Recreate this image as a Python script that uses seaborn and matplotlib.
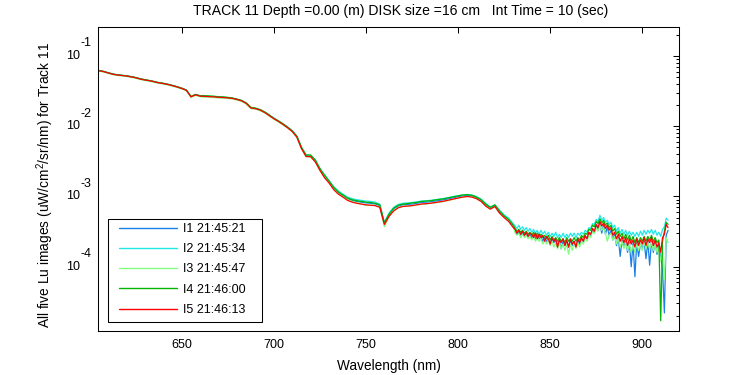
import numpy as np
import pandas as pd
import matplotlib
matplotlib.use("Agg")
import matplotlib.pyplot as plt
from matplotlib.patches import Rectangle
import seaborn as sns
from matplotlib.ticker import LogLocator, NullFormatter, NullLocator, FixedLocator

# ---------------- data (Lu values in units of 1e-4 uW/cm^2/sr/nm) ----------------
UNIT = 1e-4
wl_smooth = np.arange(605.0, 830.01, 2.5)   # 91 samples
wl_tail = np.arange(831.0, 914.01, 1.0)     # 84 samples

image_labels = ["I1 21:45:21", "I2 21:45:34", "I3 21:45:47", "I4 21:46:00", "I5 21:46:13"]
image_colors = ["#1a80e8", "#20e8e8", "#80ff80", "#00b400", "#ff0000"]

i1_smooth = [619, 601, 576, 551, 538, 528, 520, 506, 491, 471,
             456, 446, 431, 416, 406, 394, 379, 363, 346, 326,
             263, 281, 269, 267, 265, 263, 259, 257, 254, 250,
             241, 231, 211, 183, 179, 171, 158, 143, 129, 118,
             107, 96, 85, 71, 49, 38, 37.5, 32.5, 24.5, 20,
             16.2, 13.2, 11.4, 10.3, 9.3, 8.8, 8.5, 8.3, 8.1, 8.0,
             7.8, 7.4, 4.1, 5.4, 6.6, 7.3, 7.6, 7.7, 7.8, 8.0,
             8.2, 8.3, 8.4, 8.6, 8.8, 9.0, 9.3, 9.6, 9.9, 10.2,
             10.4, 10.2, 9.7, 8.9, 7.6, 6.9, 7.4, 6.0, 5.2, 4.6,
             3.8]
i2_smooth = [617, 602, 576, 552, 538, 529, 520, 507, 491, 472,
             457, 446, 432, 416, 406, 394, 380, 364, 346, 327,
             264, 282, 270, 268, 266, 264, 260, 258, 255, 251,
             242, 232, 213, 184, 180, 172, 159, 144, 130, 119,
             108, 97, 86, 72, 50, 39, 38, 33, 25, 20.5,
             16.8, 13.8, 12.0, 10.8, 9.8, 9.3, 9.0, 8.8, 8.6, 8.5,
             8.3, 7.8, 4.3, 5.8, 7.0, 7.7, 8.0, 8.1, 8.2, 8.4,
             8.6, 8.7, 8.8, 9.0, 9.2, 9.4, 9.7, 10.0, 10.3, 10.5,
             10.7, 10.5, 10.0, 9.2, 8.0, 7.1, 7.6, 6.4, 5.5, 4.9,
             4.1]
i3_smooth = [610, 592, 568, 543, 530, 519, 512, 498, 483, 463,
             448, 438, 424, 409, 399, 387, 372, 356, 340, 320,
             258, 275, 262, 260, 258, 256, 253, 251, 248, 245,
             236, 226, 206, 178, 175, 167, 155, 140, 126, 115,
             104, 94, 83, 69, 48, 37, 36, 31.5, 24, 19,
             15.8, 12.9, 11.0, 10.0, 9.0, 8.5, 8.1, 7.8, 7.5, 7.5,
             7.5, 7.1, 3.7, 5.2, 6.4, 7.0, 7.3, 7.3, 7.4, 7.6,
             7.7, 7.8, 8.0, 8.1, 8.3, 8.5, 8.8, 9.1, 9.5, 9.8,
             10.0, 9.9, 9.4, 8.6, 7.4, 6.7, 7.2, 5.9, 5.1, 4.5,
             3.7]
i4_smooth = [622, 606, 578, 556, 540, 532, 522, 510, 494, 474,
             460, 448, 434, 418, 409, 396, 381, 366, 348, 328,
             266, 284, 272, 272, 270, 268, 262, 262, 258, 252,
             243, 233, 215, 186, 181, 173, 160, 145, 130, 119,
             108, 97, 86, 72, 50, 39, 39, 33, 25, 20,
             16.5, 13.5, 11.6, 10.5, 9.5, 9.0, 8.7, 8.5, 8.3, 8.2,
             8.0, 7.6, 4.2, 5.6, 6.8, 7.5, 7.8, 7.9, 8.1, 8.2,
             8.5, 8.6, 8.7, 8.9, 9.1, 9.3, 9.6, 9.9, 10.2, 10.5,
             10.6, 10.4, 9.8, 9.0, 7.8, 7.0, 7.6, 6.2, 5.3, 4.7,
             3.9]
i5_smooth = [618, 600, 575, 550, 537, 527, 519, 505, 490, 470,
             455, 445, 430, 415, 405, 393, 378, 362, 345, 325,
             262, 280, 268, 266, 264, 262, 258, 256, 253, 249,
             240, 230, 212, 182, 178, 170, 157, 142, 128, 117,
             106, 95, 84, 70, 48, 37, 37, 31, 23.5, 18.5,
             15.5, 12.5, 10.8, 9.8, 8.8, 8.3, 8.0, 7.8, 7.6, 7.5,
             7.4, 7.0, 4.0, 5.2, 6.2, 6.9, 7.2, 7.3, 7.4, 7.6,
             7.8, 7.9, 8.0, 8.2, 8.4, 8.6, 8.9, 9.2, 9.5, 9.8,
             10.0, 9.8, 9.3, 8.5, 7.3, 6.6, 7.2, 5.8, 5.0, 4.4,
             3.6]

i1_tail = [3.2, 2.9, 3.2, 2.8, 3.1, 2.7, 3.0, 2.7, 2.9, 2.6,
           2.9, 2.5, 2.8, 2.5, 2.7, 2.3, 2.6, 2.3, 2.5, 2.1,
           2.5, 2.2, 2.4, 2.0, 2.4, 1.8, 2.3, 2.0, 2.3, 1.9,
           2.4, 2.0, 2.3, 1.9, 2.4, 2.1, 2.5, 2.3, 2.7, 2.5,
           3.0, 2.8, 3.3, 3.0, 3.8, 3.4, 4.2, 3.0, 4.0, 2.9,
           3.7, 2.8, 3.3, 2.4, 2.9, 2.0, 2.6, 1.4, 2.4, 1.9,
           2.3, 1.6, 2.2, 1.0, 2.2, 0.72, 2.2, 1.4, 2.1, 1.8,
           2.3, 1.3, 2.3, 1.05, 2.3, 1.6, 2.2, 1.5, 2.0, 1.4,
           0.9, 0.22, 2.8, 3.3]
i2_tail = [3.8, 3.5, 3.9, 3.4, 3.7, 3.3, 3.6, 3.2, 3.5, 3.1,
           3.4, 3.0, 3.3, 2.9, 3.3, 2.9, 3.2, 2.8, 3.1, 2.7,
           3.0, 2.7, 3.1, 2.6, 2.9, 2.6, 3.0, 2.6, 2.9, 2.6,
           3.0, 2.7, 3.0, 2.6, 3.0, 2.8, 3.1, 2.9, 3.3, 3.1,
           3.6, 3.5, 4.1, 4.0, 4.7, 4.4, 5.4, 4.6, 5.0, 4.3,
           4.6, 4.0, 4.3, 3.6, 3.9, 3.2, 3.6, 3.0, 3.4, 2.9,
           3.3, 2.8, 3.2, 2.8, 3.1, 2.7, 3.1, 2.7, 3.2, 2.8,
           3.3, 2.9, 3.3, 3.0, 3.4, 2.9, 3.3, 2.8, 3.1, 2.7,
           3.4, 3.7, 4.9, 4.6]
i3_tail = [3.0, 2.8, 3.0, 2.6, 2.9, 2.6, 2.8, 2.5, 2.7, 2.4,
           2.7, 2.3, 2.6, 2.3, 2.5, 2.1, 2.4, 2.1, 2.4, 2.0,
           2.3, 1.9, 2.2, 1.8, 2.2, 1.8, 2.1, 1.7, 2.1, 1.5,
           2.1, 1.7, 2.2, 1.8, 2.2, 1.9, 2.3, 2.1, 2.5, 2.3,
           2.8, 2.6, 3.2, 3.0, 3.6, 3.2, 3.9, 3.3, 3.6, 3.0,
           2.3, 2.8, 3.0, 2.4, 2.7, 2.1, 2.5, 1.9, 2.3, 1.8,
           2.2, 1.7, 2.1, 1.6, 2.0, 1.6, 2.1, 1.7, 2.1, 1.7,
           2.2, 1.8, 2.2, 1.8, 2.2, 1.7, 2.1, 1.6, 1.9, 1.2,
           1.6, 0.65, 2.6, 2.2]
i4_tail = [3.5, 3.2, 3.4, 3.1, 3.3, 3.0, 3.2, 2.9, 3.1, 2.8,
           3.1, 2.7, 3.0, 2.7, 2.9, 2.6, 2.8, 2.5, 2.8, 2.4,
           2.7, 2.4, 2.6, 2.3, 2.6, 2.3, 2.5, 2.2, 2.6, 2.3,
           2.5, 2.3, 2.6, 2.3, 2.6, 2.4, 2.8, 2.6, 3.0, 2.9,
           3.4, 3.3, 3.9, 3.7, 4.4, 4.1, 4.8, 4.2, 4.6, 3.9,
           4.2, 3.6, 3.9, 3.2, 3.5, 2.9, 3.2, 2.7, 3.0, 2.5,
           2.9, 2.4, 2.8, 2.3, 2.7, 2.2, 2.6, 2.2, 2.6, 2.3,
           2.7, 2.3, 2.7, 2.4, 2.8, 2.3, 2.6, 2.2, 2.4, 0.17,
           2.3, 3.2, 4.3, 4.0]
i5_tail = [3.4, 3.0, 3.3, 2.9, 3.2, 2.8, 3.1, 2.7, 3.0, 2.9,
           2.6, 3.0, 2.5, 2.9, 2.6, 2.8, 2.3, 2.7, 2.5, 2.1,
           2.6, 2.3, 2.5, 1.9, 2.4, 2.2, 2.5, 2.0, 2.4, 1.9,
           2.5, 2.1, 2.3, 1.9, 2.5, 2.2, 2.6, 2.3, 2.8, 2.5,
           3.1, 2.9, 3.5, 3.2, 4.0, 3.6, 4.4, 3.8, 4.2, 3.5,
           3.9, 3.3, 3.6, 2.8, 3.1, 2.5, 2.9, 2.3, 2.7, 2.2,
           2.6, 2.0, 2.5, 2.1, 2.4, 1.9, 2.5, 2.0, 2.4, 2.1,
           2.6, 2.0, 2.5, 2.2, 2.6, 2.0, 2.4, 1.9, 2.2, 1.6,
           2.6, 2.9, 4.0, 3.6]

xtick_values = [650, 700, 750, 800, 850, 900]
ytick_exponents = [-1, -2, -3, -4]

title_text = "TRACK 11 Depth =0.00 (m) DISK size =16 cm   Int Time = 10 (sec)"
xlabel_text = "Wavelength (nm)"
ylabel_text = "All five Lu images (uW/cm$^2$/sr/nm) for Track 11"

# ---------------- build table ----------------
wavelength = np.concatenate([wl_smooth, wl_tail])
all_series = [i1_smooth + i1_tail, i2_smooth + i2_tail, i3_smooth + i3_tail,
              i4_smooth + i4_tail, i5_smooth + i5_tail]
frames = []
for lab, vals in zip(image_labels, all_series):
    frames.append(pd.DataFrame({"Wavelength": wavelength,
                                "Lu": np.asarray(vals, dtype=float) * UNIT,
                                "Image": lab}))
df = pd.concat(frames, ignore_index=True)

# ---------------- style ----------------
sns.set_theme(style="white")
plt.rcParams.update({
    "font.family": ["Liberation Sans", "DejaVu Sans"],
    "mathtext.fontset": "custom",
    "mathtext.rm": "Liberation Sans",
    "mathtext.it": "Liberation Sans:italic",
    "mathtext.bf": "Liberation Sans:bold",
    "axes.edgecolor": "black",
    "axes.linewidth": 0.75,
    "text.color": "black",
    "xtick.color": "black",
    "ytick.color": "black",
})

W, H = 750.0, 375.0
AX_L, AX_R, AX_T, AX_B = 98.3, 679.3, 27.3, 331.0
fig = plt.figure(figsize=(7.5, 3.75), dpi=100)
ax = fig.add_axes([AX_L / W, 1 - AX_B / H, (AX_R - AX_L) / W, (AX_B - AX_T) / H])


def axfrac(px, py):
    return ((px - AX_L) / (AX_R - AX_L), (AX_B - py) / (AX_B - AX_T))


sns.lineplot(data=df, x="Wavelength", y="Lu", hue="Image", hue_order=image_labels,
             palette=image_colors, estimator=None, sort=False, lw=0.9, ax=ax)

ax.set_yscale("log")
ax.set_xlim(604.7, 920.1)
ax.set_ylim(1.215e-5, 0.2563)

ax.xaxis.set_major_locator(FixedLocator(xtick_values))
ax.xaxis.set_minor_locator(NullLocator())
ax.set_xticklabels([str(v) for v in xtick_values], fontsize=9)
ax.yaxis.set_major_locator(FixedLocator([10.0 ** e for e in ytick_exponents]))
ax.yaxis.set_minor_locator(LogLocator(base=10, subs=np.arange(2, 10), numticks=50))
ax.yaxis.set_major_formatter(NullFormatter())
ax.yaxis.set_minor_formatter(NullFormatter())

ax.tick_params(which="both", direction="in", top=True, right=True, width=0.75)
ax.tick_params(which="major", length=4.3)
ax.tick_params(which="minor", length=2.3)
ax.tick_params(axis="x", pad=6)
for s in ax.spines.values():
    s.set_visible(True)
    s.set_color("black")
    s.set_linewidth(0.75)

for e in ytick_exponents:
    ax.annotate("10", xy=(0, 10.0 ** e), xycoords=("axes fraction", "data"),
                xytext=(-13.2, 0), textcoords="offset points",
                ha="right", va="center", fontsize=9)
    ax.annotate("-" + str(abs(e)), xy=(0, 10.0 ** e), xycoords=("axes fraction", "data"),
                xytext=(-13.0, 9.1), textcoords="offset points",
                ha="left", va="center", fontsize=9)

ax.set_xlabel("")
ax.set_ylabel("")
ax.set_title(title_text, fontsize=10.1, x=axfrac(401, 0)[0], pad=8.5)
fig.text(389 / W, 1 - 366 / H, xlabel_text, ha="center", va="center", fontsize=9.8)
fig.text(45 / W, 1 - 185 / H, ylabel_text, ha="center", va="center",
         rotation=90, fontsize=9.9)

# legend: entries without frame, plus a fixed-size box like the reference
handles, labs = ax.get_legend_handles_labels()
for h in handles:
    h.set_linewidth(1.0)
leg = ax.legend(handles, labs, loc="upper left", bbox_to_anchor=axfrac(119.3, 223.0),
                borderaxespad=0, borderpad=0, frameon=False, fontsize=9,
                handlelength=4.6, handletextpad=0.48, labelspacing=0.66)
x0, y0 = axfrac(108.3, 321.5)
x1, y1 = axfrac(262.3, 219.3)
ax.add_patch(Rectangle((x0, y0), x1 - x0, y1 - y0, transform=ax.transAxes,
                       facecolor="white", edgecolor="black", linewidth=0.75,
                       zorder=4, clip_on=False))
leg.set_zorder(5)

fig.savefig("out.png", dpi=100)
